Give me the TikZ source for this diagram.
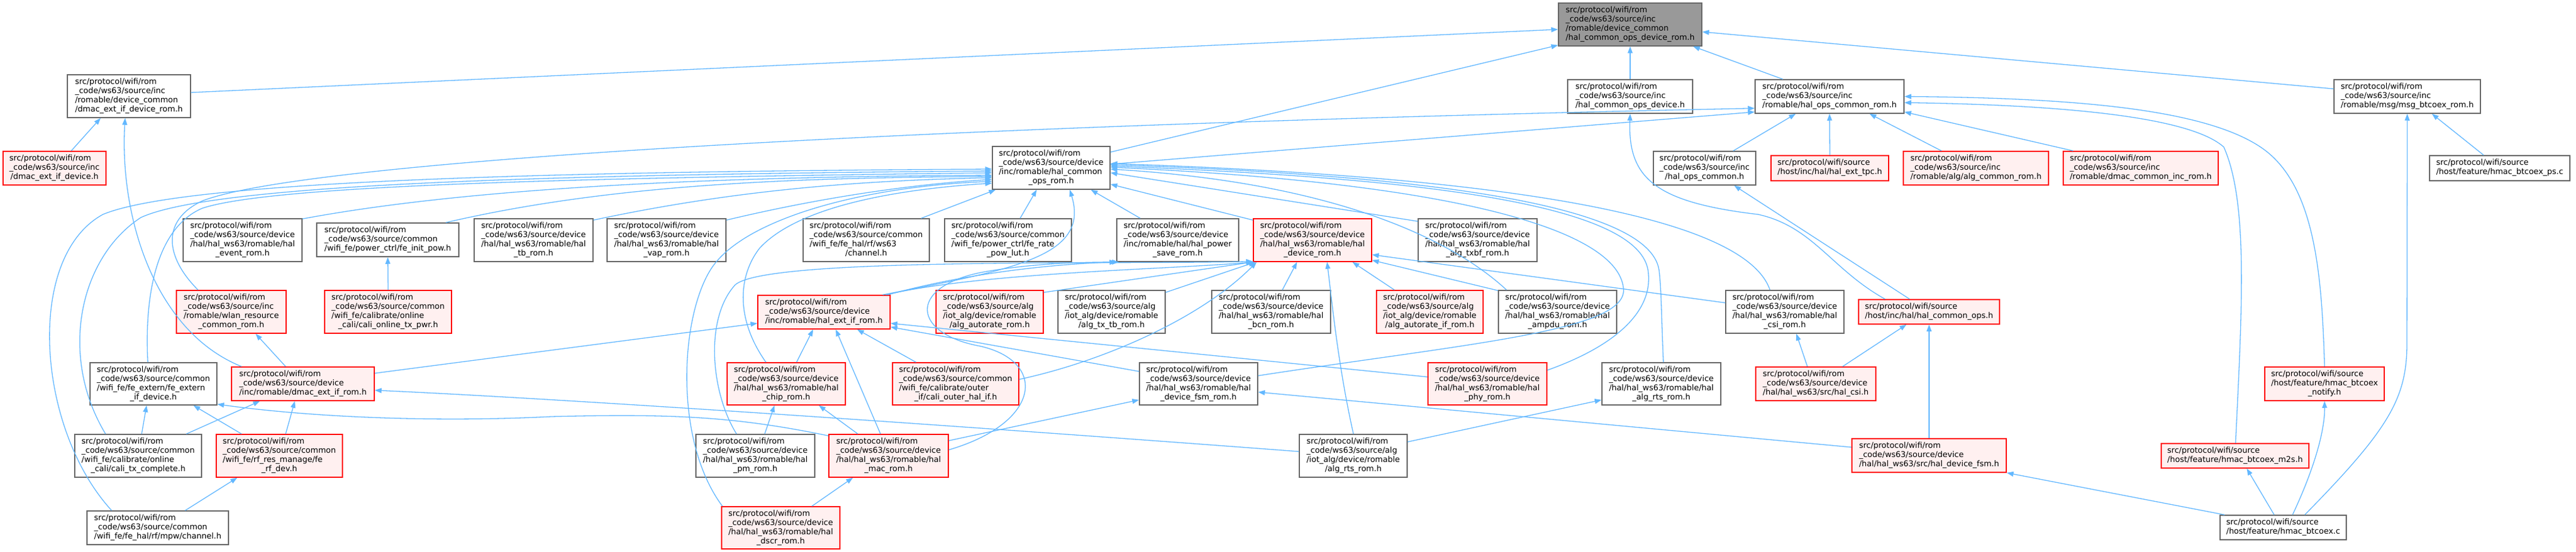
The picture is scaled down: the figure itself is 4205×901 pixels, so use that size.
\documentclass[tikz,border=0pt]{standalone}
\usepackage{fontspec}
\setmainfont{DejaVu Sans}
\usetikzlibrary{arrows.meta}
\definecolor{edgec}{HTML}{63B8FF}
\definecolor{greyb}{HTML}{666666}
\definecolor{greyf}{HTML}{999999}
\definecolor{redfill}{HTML}{FFF0F0}
\definecolor{redb}{HTML}{FF0000}
\newcommand\nodefont{\fontsize{13}{15}\selectfont}
\newcommand\tl[1]{\begin{tabular}{@{}l@{}}#1\end{tabular}}
\newcommand\lastln[1]{\multicolumn{1}{@{}c@{}}{#1}}
\newcommand\bx[7]{\node[#6, minimum width={(#4-#2)*1pt}, minimum height={(#5-#3)*1pt}] (#1) at ({(#2+#4)/2},{(#3+#5)/2}) {#7};}
\newcommand\PR{src/protocol/wifi/rom}
\newcommand\PS{src/protocol/wifi/source}
\newcommand\halrom[1]{\tl{\PR\\\_code/ws63/source/device\\/hal/hal\_ws63/romable/hal\\\lastln{#1}}}
\newcommand\algrom[1]{\tl{\PR\\\_code/ws63/source/alg\\/iot\_alg/device/romable\\\lastln{#1}}}
\begin{document}
\begin{tikzpicture}[x=1pt,y=-1pt,
  nb/.style={draw=greyb, fill=white, line width=1.5pt, inner xsep=4pt, inner ysep=2pt, font=\nodefont},
  nr/.style={nb, draw=redb, fill=redfill},
  ng/.style={nb, fill=greyf},
  inc/.style={draw=edgec, line width=1.3pt, -{Triangle[length=11pt,width=8pt]}}]
\fill[white] (0,0) rectangle (4205,901);
\useasboundingbox (0,0) rectangle (4205,901);
% rank 0-2
\bx{root}{2544}{5}{2778}{75}{ng}{\tl{\PR\\\_code/ws63/source/inc\\/romable/device\_common\\\lastln{/hal\_common\_ops\_device\_rom.h}}}
\bx{dedr}{110}{122}{311}{192}{nb}{\tl{\PR\\\_code/ws63/source/inc\\/romable/device\_common\\\lastln{/dmac\_ext\_if\_device\_rom.h}}}
\bx{hcod}{2559}{130}{2763}{185}{nb}{\tl{\PR\\\_code/ws63/source/inc\\\lastln{/hal\_common\_ops\_device.h}}}
\bx{hocr}{2865}{130}{3108}{185}{nb}{\tl{\PR\\\_code/ws63/source/inc\\\lastln{/romable/hal\_ops\_common\_rom.h}}}
\bx{msg}{3810}{130}{4049}{185}{nb}{\tl{\PR\\\_code/ws63/source/inc\\\lastln{/romable/msg/msg\_btcoex\_rom.h}}}
\bx{ded}{5}{247}{173}{302}{nr}{\tl{\PR\\\_code/ws63/source/inc\\\lastln{/dmac\_ext\_if\_device.h}}}
\bx{hub}{1620}{239}{1812}{309}{nb}{\tl{\PR\\\_code/ws63/source/device\\/inc/romable/hal\_common\\\lastln{\_ops\_rom.h}}}
\bx{hoc}{2699}{247}{2866}{302}{nb}{\tl{\PR\\\_code/ws63/source/inc\\\lastln{/hal\_ops\_common.h}}}
\bx{tpc}{2891}{254}{3083}{295}{nr}{\tl{\PS\\\lastln{/host/inc/hal/hal\_ext\_tpc.h}}}
\bx{acr}{3107}{247}{3344}{302}{nr}{\tl{\PR\\\_code/ws63/source/inc\\\lastln{/romable/alg/alg\_common\_rom.h}}}
\bx{dcir}{3368}{247}{3621}{302}{nr}{\tl{\PR\\\_code/ws63/source/inc\\\lastln{/romable/dmac\_common\_inc\_rom.h}}}
\bx{ps}{3966}{254}{4195}{295}{nb}{\tl{\PS\\\lastln{/host/feature/hmac\_btcoex\_ps.c}}}
% rank 3
\bx{evt}{299}{357}{493}{427}{nb}{\halrom{\_event\_rom.h}}
\bx{fip}{517}{364}{749}{419}{nb}{\tl{\PR\\\_code/ws63/source/common\\\lastln{/wifi\_fe/power\_ctrl/fe\_init\_pow.h}}}
\bx{tb}{774}{357}{968}{427}{nb}{\halrom{\_tb\_rom.h}}
\bx{vap}{991}{357}{1185}{427}{nb}{\halrom{\_vap\_rom.h}}
\bx{chw}{1311}{357}{1517}{427}{nb}{\tl{\PR\\\_code/ws63/source/common\\/wifi\_fe/fe\_hal/rf/ws63\\\lastln{/channel.h}}}
\bx{lut}{1542}{357}{1749}{427}{nb}{\tl{\PR\\\_code/ws63/source/common\\/wifi\_fe/power\_ctrl/fe\_rate\\\lastln{\_pow\_lut.h}}}
\bx{psv}{1823}{357}{2022}{427}{nb}{\tl{\PR\\\_code/ws63/source/device\\/inc/romable/hal/hal\_power\\\lastln{\_save\_rom.h}}}
\bx{dev}{2046}{357}{2239}{427}{nr}{\halrom{\_device\_rom.h}}
\bx{txbf}{2315}{357}{2509}{427}{nb}{\halrom{\_alg\_txbf\_rom.h}}
% rank 4
\bx{wlan}{288}{474}{467}{544}{nr}{\tl{\PR\\\_code/ws63/source/inc\\/romable/wlan\_resource\\\lastln{\_common\_rom.h}}}
\bx{cotp}{530}{474}{737}{544}{nr}{\tl{\PR\\\_code/ws63/source/common\\/wifi\_fe/calibrate/online\\\lastln{\_cali/cali\_online\_tx\_pwr.h}}}
\bx{hei}{1237}{482}{1453}{537}{nr}{\tl{\PR\\\_code/ws63/source/device\\\lastln{/inc/romable/hal\_ext\_if\_rom.h}}}
\bx{aar}{1528}{474}{1703}{544}{nr}{\algrom{/alg\_autorate\_rom.h}}
\bx{atb}{1727}{474}{1902}{544}{nb}{\algrom{/alg\_tx\_tb\_rom.h}}
\bx{bcn}{1978}{474}{2172}{544}{nb}{\halrom{\_bcn\_rom.h}}
\bx{aaif}{2247}{474}{2421}{544}{nr}{\algrom{/alg\_autorate\_if\_rom.h}}
\bx{ampdu}{2446}{474}{2639}{544}{nb}{\halrom{\_ampdu\_rom.h}}
\bx{csir}{2817}{474}{3010}{544}{nb}{\halrom{\_csi\_rom.h}}
\bx{hco}{3034}{489}{3264}{529}{nr}{\tl{\PS\\\lastln{/host/inc/hal/hal\_common\_ops.h}}}
% rank 5
\bx{fex}{147}{592}{354}{661}{nb}{\tl{\PR\\\_code/ws63/source/common\\/wifi\_fe/fe\_extern/fe\_extern\\\lastln{\_if\_device.h}}}
\bx{deir}{378}{599}{611}{654}{nr}{\tl{\PR\\\_code/ws63/source/device\\\lastln{/inc/romable/dmac\_ext\_if\_rom.h}}}
\bx{chip}{1187}{592}{1380}{661}{nr}{\halrom{\_chip\_rom.h}}
\bx{coh}{1457}{592}{1663}{661}{nr}{\tl{\PR\\\_code/ws63/source/common\\/wifi\_fe/calibrate/outer\\\lastln{\_if/cali\_outer\_hal\_if.h}}}
\bx{dfr}{1860}{592}{2053}{661}{nb}{\halrom{\_device\_fsm\_rom.h}}
\bx{phy}{2331}{592}{2525}{661}{nr}{\halrom{\_phy\_rom.h}}
\bx{hart}{2615}{592}{2809}{661}{nb}{\halrom{\_alg\_rts\_rom.h}}
\bx{csi}{2866}{599}{3062}{654}{nr}{\tl{\PR\\\_code/ws63/source/device\\\lastln{/hal/hal\_ws63/src/hal\_csi.h}}}
\bx{ntf}{3697}{599}{3892}{654}{nr}{\tl{\PS\\/host/feature/hmac\_btcoex\\\lastln{\_notify.h}}}
% rank 6
\bx{ctc}{122}{709}{329}{779}{nb}{\tl{\PR\\\_code/ws63/source/common\\/wifi\_fe/calibrate/online\\\lastln{\_cali/cali\_tx\_complete.h}}}
\bx{rfd}{353}{709}{559}{779}{nr}{\tl{\PR\\\_code/ws63/source/common\\/wifi\_fe/rf\_res\_manage/fe\\\lastln{\_rf\_dev.h}}}
\bx{pm}{1136}{709}{1330}{779}{nb}{\halrom{\_pm\_rom.h}}
\bx{mac}{1353}{709}{1548}{779}{nr}{\halrom{\_mac\_rom.h}}
\bx{art}{2121}{709}{2297}{779}{nb}{\algrom{/alg\_rts\_rom.h}}
\bx{dfsm}{3023}{716}{3275}{771}{nr}{\tl{\PR\\\_code/ws63/source/device\\\lastln{/hal/hal\_ws63/src/hal\_device\_fsm.h}}}
\bx{m2s}{3528}{724}{3769}{764}{nr}{\tl{\PS\\\lastln{/host/feature/hmac\_btcoex\_m2s.h}}}
% rank 7
\bx{mpw}{142}{834}{373}{889}{nb}{\tl{\PR\\\_code/ws63/source/common\\\lastln{/wifi\_fe/fe\_hal/rf/mpw/channel.h}}}
\bx{dscr}{1178}{827}{1371}{896}{nr}{\halrom{\_dscr\_rom.h}}
\bx{bt}{3624}{841}{3830}{881}{nb}{\tl{\PS\\\lastln{/host/feature/hmac\_btcoex.c}}}

% ---- edges into root
\draw[inc] ([yshift=6pt]dedr.east) -- ([yshift=-8pt]root.west);
\draw[inc] ([yshift=-10pt]hub.north east) -- ([yshift=2pt]root.south west);
\draw[inc] (hcod.north) -- (root.south);
\draw[inc] ([xshift=46pt]hocr.north west) -- ([xshift=-15pt]root.south east);
\draw[inc] ([yshift=12.5pt]msg.west) -- ([yshift=-12pt]root.east);
% dmac_ext_if_device_rom
\draw[inc] ([xshift=112pt]ded.north west) -- ([xshift=55pt]dedr.south west);
\draw[inc] ([xshift=17pt]deir.north west) .. controls (250,540) and (195,350) .. ([xshift=95pt]dedr.south west);
% hal_ops_common_rom
\draw[inc] ([yshift=6pt]hub.east) -- ([yshift=3pt]hocr.south west);
\draw[inc] ([xshift=36pt]wlan.north west) .. controls (270,420) and (262,360) .. (330,328) .. controls (500,262) and (1500,205) .. ([yshift=9pt]hocr.south west);
\draw[inc] ([xshift=131pt]hoc.north west) -- ([xshift=67pt]hocr.south west);
\draw[inc] (tpc.north) -- (hocr.south);
\draw[inc] ([xshift=63pt]acr.north west) -- ([xshift=-57pt]hocr.south east);
\draw[inc] ([xshift=17pt]dcir.north west) -- ([yshift=3pt]hocr.south east);
\draw[inc] ([xshift=122pt]m2s.north west) .. controls (3660,500) and (3670,330) .. (3630,240) .. controls (3580,195) and (3400,172) .. ([yshift=-10pt]hocr.east);
\draw[inc] (ntf.north) .. controls (3790,450) and (3780,300) .. (3690,240) .. controls (3600,180) and (3400,160) .. (hocr.east);
% msg_btcoex_rom
\draw[inc] ([xshift=89pt]ps.north west) -- ([xshift=-80pt]msg.south east);
\draw[inc] ([xshift=139pt]bt.north west) .. controls (3900,700) and (3929,650) .. (3929,560) -- (msg.south);
% hmac_btcoex.c
\draw[inc] ([xshift=119pt]bt.north west) .. controls (3780,760) and (3795,700) .. (ntf.south);
\draw[inc] ([xshift=89pt]bt.north west) -- ([xshift=19pt]m2s.south);
\draw[inc] ([xshift=8pt]bt.north west) -- (dfsm.south east);
% host hal_common_ops.h
\draw[inc] ([xshift=44pt]hco.north west) .. controls (2990,440) and (2960,370) .. (2870,350) .. controls (2700,330) and (2657,290) .. (hcod.south);
\draw[inc] ([xshift=84pt]hco.north west) -- ([xshift=-36pt]hoc.south east);
\draw[inc] ([xshift=85pt]csi.north west) -- ([xshift=116pt]csir.south west);
\draw[inc] ([xshift=-55pt]csi.north east) -- ([xshift=-37pt]hco.south);
\draw[inc] (dfsm.north) -- (hco.south);
\draw[inc] ([yshift=13.5pt]dfsm.west) -- ([yshift=-13.5pt]dfr.east);
% left cluster
\draw[inc] ([xshift=42pt]rfd.north west) -- ([xshift=-39pt]fex.south east);
\draw[inc] ([xshift=114pt]rfd.north west) -- ([xshift=104pt]deir.south west);
\draw[inc] ([xshift=110pt]ctc.north west) -- ([xshift=93pt]fex.south west);
\draw[inc] ([xshift=183pt]ctc.north west) -- ([xshift=47pt]deir.south west);
\draw[inc] ([xshift=161pt]mpw.north west) -- ([xshift=35pt]rfd.south west);
\draw[inc] ([xshift=89pt]deir.north west) -- ([xshift=130pt]wlan.south west);
\draw[inc] (cotp.north) -- (fip.south);
\draw[inc] ([yshift=-11pt]deir.north east) -- ([yshift=10pt]hei.south west);
% hal_ext_if_rom
\draw[inc] ([xshift=114pt]chip.north west) -- ([xshift=91pt]hei.south west);
\draw[inc] ([xshift=85pt]mac.north west) -- ([xshift=128pt]hei.south west);
\draw[inc] ([xshift=39pt]coh.north west) -- ([xshift=163pt]hei.south west);
\draw[inc] ([xshift=48pt]mac.north west) -- ([xshift=-44pt]chip.south east);
\draw[inc] ([xshift=113pt]pm.north west) -- ([xshift=78pt]chip.south west);
\draw[inc] ([xshift=148pt]dscr.north west) -- ([xshift=40pt]mac.south west);
\draw[inc] ([yshift=-15pt]dfr.north west) -- ([yshift=4pt]hei.south east);
\draw[inc] ([yshift=-24pt]phy.north west) -- ([yshift=10pt]hei.south east);
\draw[inc] ([yshift=-11pt]mac.north east) -- ([yshift=9pt]dfr.south west);
\draw[inc] ([yshift=-13pt]art.north east) -- ([yshift=9pt]hart.south west);
% hal_device_rom
\draw[inc] ([yshift=-21pt]csir.north west) -- ([yshift=12pt]dev.south east);
\draw[inc] ([yshift=-1pt]ampdu.north west) -- ([yshift=3pt]dev.south east);
\draw[inc] ([xshift=30pt]aaif.north west) -- ([xshift=-32pt]dev.south east);
\draw[inc] ([xshift=89pt]art.north west) .. controls (2185,600) and (2175,500) .. ([xshift=121pt]dev.south west);
\draw[inc] ([xshift=116pt]bcn.north west) -- ([xshift=72pt]dev.south west);
\draw[inc] ([yshift=-4pt]aar.north east) -- (dev.south west);
\draw[inc] ([yshift=-4pt]atb.north east) -- ([xshift=4pt]dev.south west);
\draw[inc] ([yshift=-28pt]coh.north east) .. controls (1800,590) and (1960,520) .. ([xshift=6pt]dev.south west);
\draw[inc] ([xshift=67pt]pm.north west) .. controls (1160,640) and (1150,520) .. (1200,465) .. controls (1250,420) and (1800,432) .. ([yshift=1pt]dev.south west);
\draw[inc] ([xshift=-8pt]hei.north east) .. controls (1600,445) and (1900,440) .. ([xshift=2pt]dev.south west);
% hal_power_save_rom
\draw[inc] ([xshift=-5pt]hei.north east) .. controls (1600,440) and (1750,430) .. (psv.south west);
\draw[inc] ([yshift=-26pt]mac.north east) .. controls (1700,690) and (1710,590) .. (1600,565) .. controls (1490,545) and (1480,470) .. (1600,445) .. controls (1680,430) and (1760,428) .. ([xshift=4pt]psv.south west);
% into hub from below
\draw[inc] ([yshift=-3pt]dev.north west) -- ([yshift=9pt]hub.south east);
\draw[inc] ([xshift=39pt]psv.north west) -- ([xshift=-32pt]hub.south east);
\draw[inc] ([xshift=124pt]lut.north west) -- ([xshift=73pt]hub.south west);
\draw[inc] ([xshift=-14pt]chw.north east) -- ([xshift=6pt]hub.south west);
\draw[inc] ([xshift=-13pt]hei.north east) .. controls (1650,440) and (1780,420) .. ([xshift=127pt]hub.south west);
% into hub from the right
\draw[inc] ([yshift=-5pt]txbf.north west) -- ([yshift=-8pt]hub.east);
\draw[inc] ([xshift=14pt]ampdu.north west) .. controls (2380,400) and (2200,300) .. ([yshift=-2pt]hub.east);
\draw[inc] ([yshift=-22pt]dfr.north east) .. controls (2400,560) and (2660,540) .. (2650,470) .. controls (2640,380) and (2400,300) .. ([yshift=1pt]hub.east);
\draw[inc] ([yshift=-13pt]phy.north east) .. controls (2650,560) and (2700,500) .. (2690,440) .. controls (2670,330) and (2300,290) .. ([yshift=3pt]hub.east);
\draw[inc] ([xshift=101pt]hart.north west) .. controls (2712,520) and (2712,470) .. (2708,440) .. controls (2690,330) and (2300,285) .. ([yshift=5pt]hub.east);
\draw[inc] ([xshift=73pt]csir.north west) .. controls (2850,360) and (2500,290) .. ([yshift=7pt]hub.east);
% into hub from the left
\draw[inc] ([yshift=-1pt]evt.north east) .. controls (800,300) and (1250,288) .. ([yshift=-12pt]hub.west);
\draw[inc] ([xshift=-22pt]fip.north east) .. controls (1000,300) and (1300,290) .. ([yshift=-14pt]hub.west);
\draw[inc] ([yshift=-3pt]tb.north east) .. controls (1200,310) and (1400,295) .. ([yshift=-16pt]hub.west);
\draw[inc] ([yshift=-3pt]vap.north east) .. controls (1350,320) and (1500,300) .. ([yshift=-19pt]hub.west);
\draw[inc] ([xshift=41pt]mpw.north west) .. controls (60,700) and (40,420) .. (168,350) .. controls (300,295) and (900,280) .. ([yshift=-2pt]hub.west);
\draw[inc] ([xshift=51pt]ctc.north west) .. controls (95,580) and (130,420) .. (230,355) .. controls (350,300) and (900,285) .. ([yshift=-5pt]hub.west);
\draw[inc] ([xshift=95pt]fex.north west) .. controls (235,470) and (260,370) .. (330,340) .. controls (450,300) and (1000,290) .. ([yshift=-8pt]hub.west);
\draw[inc] ([xshift=2pt]dscr.north west) .. controls (1100,720) and (1110,520) .. (1160,440) .. controls (1210,360) and (1400,305) .. ([yshift=-22pt]hub.west);
\draw[inc] ([xshift=64pt]chip.north west) .. controls (1200,520) and (1205,450) .. (1240,405) .. controls (1300,340) and (1450,310) .. ([yshift=-25pt]hub.west);
% long lower connectors
\draw[inc] ([yshift=-3pt]mac.north west) .. controls (1200,680) and (1100,675) .. (900,680) .. controls (700,690) and (500,680) .. ([yshift=2pt]fex.south east);
\draw[inc] ([yshift=7pt]art.west) .. controls (1500,690) and (900,650) .. ([yshift=-10.5pt]deir.east);
\end{tikzpicture}
\end{document}
